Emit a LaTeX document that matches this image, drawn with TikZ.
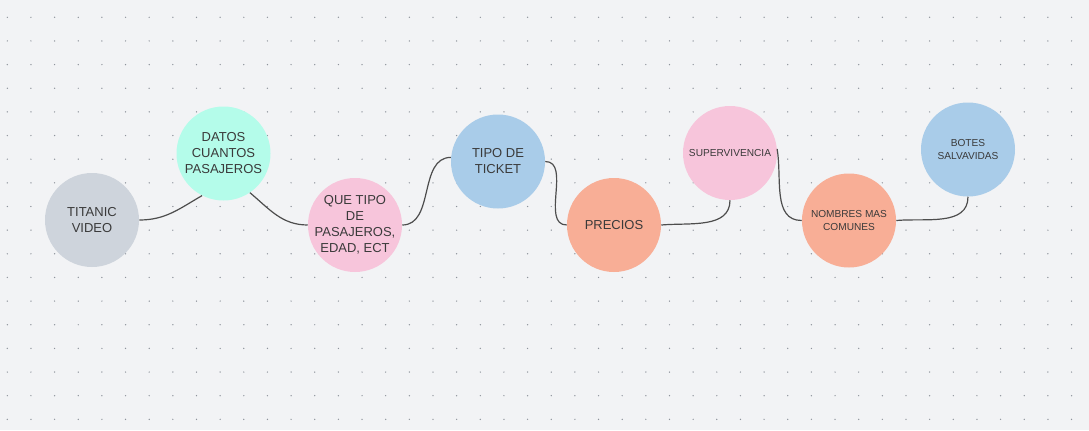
\documentclass[tikz,border=0pt]{standalone}
\usepackage{fontspec}
\setmainfont{Liberation Sans}
\usepackage{xcolor}
\usepackage{tikz}
\usetikzlibrary{calc}
\definecolor{boardgray}{HTML}{F2F3F5}
\definecolor{gridgray}{HTML}{8E939B}
\definecolor{inkgray}{HTML}{3A3A3A}
\definecolor{linkgray}{HTML}{4D4D4D}
\definecolor{titanicgray}{HTML}{CED4DC}
\definecolor{datamint}{HTML}{B4FCEA}
\definecolor{rosepink}{HTML}{F7C5DB}
\definecolor{skyblue}{HTML}{A9CCE9}
\definecolor{salmonred}{HTML}{F8AE96}

\begin{document}
\begin{tikzpicture}[x=0.75pt, y=0.75pt,
  bubble/.style={circle, minimum size=70.5pt, inner sep=0pt, align=center,
    text=inkgray, font=\fontsize{9.75}{12}\selectfont},
  smallbubble/.style={bubble, font=\fontsize{7.6}{9.3}\selectfont},
  link/.style={draw=linkgray, line width=0.9pt}]

  % Board background
  \useasboundingbox (0,0) rectangle (1089,430);
  \fill[boardgray] (0,0) rectangle (1089,430);

  % Dot grid
  \foreach \i in {0,...,45} {
    \foreach \j in {0,...,17} {
      \fill[gridgray] (7.3+\i*23.65, 412.7-\j*23.65) circle (0.55pt);
    }
  }

  % Topics
  \node[bubble, fill=titanicgray] (titanic) at (92,210) {TITANIC\\VIDEO};
  \node[bubble, fill=datamint] (datos) at (223.5,276.5) {DATOS\\CUANTOS\\PASAJEROS};
  \node[bubble, fill=rosepink, inner sep=-3pt] (tipopas) at (355,205) {QUE TIPO\\DE\\PASAJEROS,\\EDAD, ECT};
  \node[bubble, fill=skyblue] (ticket) at (498,268.5) {TIPO DE\\TICKET};
  \node[bubble, fill=salmonred] (precios) at (614,205) {PRECIOS};
  \node[smallbubble, fill=rosepink] (superv) at (730,277) {SUPERVIVENCIA};
  \node[smallbubble, fill=salmonred] (nombres) at (849,209.5) {NOMBRES MAS\\COMUNES};
  \node[smallbubble, fill=skyblue] (botes) at (968,280.5) {BOTES\\SALVAVIDAS};

  % Connectors
  \draw[link] (titanic.east) to[out=0, in=210] (datos.243);
  \draw[link] (datos.304) to[out=-40, in=180] (tipopas.west);
  \draw[link] (tipopas.east) to[out=0, in=180] (ticket.175);
  \draw[link] (ticket.east) to[out=0, in=180] (precios.west);
  \draw[link] (precios.east) to[out=5, in=-90] (superv.south);
  \draw[link] (superv.5) to[out=-80, in=180] (nombres.west);
  \draw[link] (nombres.east) to[out=5, in=-90] (botes.south);
\end{tikzpicture}
\end{document}
